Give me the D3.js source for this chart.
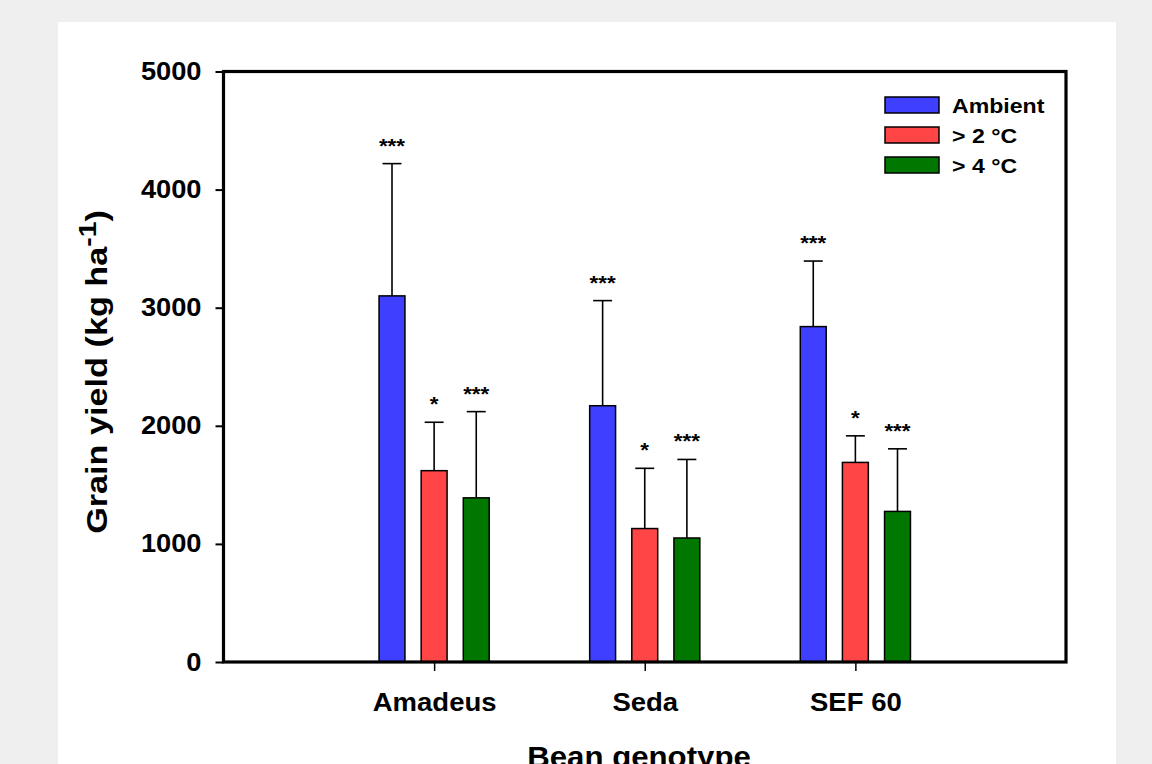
<!DOCTYPE html>
<html><head><meta charset="utf-8">
<script src="https://cdn.jsdelivr.net/npm/d3@7"></script>
<style>
html,body{margin:0;padding:0;background:#efefef;}
svg{display:block;font-family:"Liberation Sans",Arial,sans-serif;}
</style></head>
<body>
<svg id="chart" width="1152" height="764"></svg>
<script>
const categories = ["Amadeus", "Seda", "SEF 60"];
const seriesNames = ["Ambient", "> 2 °C", "> 4 °C"];
const seriesColors = ["#3f3fff", "#ff4545", "#007800"];
const ambientMean = [3100, 2170, 2840];
const ambientErr  = [1120, 890, 555];
const plus2Mean   = [1620, 1130, 1690];
const plus2Err    = [410, 510, 225];
const plus4Mean   = [1390, 1050, 1275];
const plus4Err    = [730, 665, 530];
const ambientSig = ["***", "***", "***"];
const plus2Sig   = ["*", "*", "*"];
const plus4Sig   = ["***", "***", "***"];
const yTicks = [0, 1000, 2000, 3000, 4000, 5000];

const means = [ambientMean, plus2Mean, plus4Mean];
const errs = [ambientErr, plus2Err, plus4Err];
const sigs = [ambientSig, plus2Sig, plus4Sig];

function widen(sel, f) {
  sel.each(function() {
    const n = this.getComputedTextLength();
    d3.select(this).attr("textLength", n * f).attr("lengthAdjust", "spacingAndGlyphs");
  });
}

const svg = d3.select("#chart");
svg.append("rect").attr("x", 58).attr("y", 22).attr("width", 1058).attr("height", 760).attr("fill", "#fff");

const L = 223.5, R = 1066, T = 71.5, B = 662;
const x = d3.scaleLinear().domain([0, 4]).range([L, R]);
const y = d3.scaleLinear().domain([0, 5000]).range([B, T]);
const off = 0.2, bw = 0.123, cap = 0.045;

const data = [];
categories.forEach((c, i) => {
  seriesNames.forEach((s, j) => {
    data.push({cat: c, ci: i + 1, sj: j, mean: means[j][i], err: errs[j][i], sig: sigs[j][i]});
  });
});

const g = svg.append("g");
// error bars
g.selectAll("line.eb").data(data).join("line")
  .attr("x1", d => x(d.ci + (d.sj - 1) * off)).attr("x2", d => x(d.ci + (d.sj - 1) * off))
  .attr("y1", d => y(d.mean)).attr("y2", d => y(d.mean + d.err))
  .attr("stroke", "#000").attr("stroke-width", 1.6);
g.selectAll("line.cap").data(data).join("line")
  .attr("x1", d => x(d.ci + (d.sj - 1) * off - cap)).attr("x2", d => x(d.ci + (d.sj - 1) * off + cap))
  .attr("y1", d => y(d.mean + d.err)).attr("y2", d => y(d.mean + d.err))
  .attr("stroke", "#000").attr("stroke-width", 1.6);
// bars
g.selectAll("rect.bar").data(data).join("rect")
  .attr("x", d => x(d.ci + (d.sj - 1) * off - bw / 2))
  .attr("width", d => x(bw) - x(0))
  .attr("y", d => y(d.mean))
  .attr("height", d => y(0) - y(d.mean))
  .attr("fill", d => seriesColors[d.sj]).attr("stroke", "#000").attr("stroke-width", 1.5);
// significance
const st = g.selectAll("text.sig").data(data).join("text")
  .attr("x", d => x(d.ci + (d.sj - 1) * off))
  .attr("y", d => y(d.mean + d.err) - 11)
  .attr("text-anchor", "middle").attr("font-size", 20).attr("font-weight", "bold")
  .attr("fill", "#000")
  .text(d => d.sig);
widen(st, 1.12);

// y axis
const yAxis = d3.axisLeft(y).tickValues(yTicks).tickSize(8).tickPadding(14).tickFormat(d3.format("d"));
const ya = svg.append("g").attr("transform", `translate(${L},0)`).call(yAxis);
ya.select(".domain").remove();
ya.selectAll("line").attr("stroke", "#000").attr("stroke-width", 2);
ya.selectAll("text").attr("font-size", 25).attr("font-weight", "bold").attr("fill", "#000")
  .attr("font-family", "Liberation Sans, Arial, sans-serif");
widen(ya.selectAll("text"), 1.09);

// x axis
const xAxis = d3.axisBottom(x).tickValues([1, 2, 3]).tickFormat(d => categories[d - 1]).tickSize(9).tickPadding(22);
const xa = svg.append("g").attr("transform", `translate(0,${B})`).call(xAxis);
xa.select(".domain").remove();
xa.selectAll("line").attr("stroke", "#000").attr("stroke-width", 1.5);
xa.selectAll("text").attr("font-size", 25).attr("font-weight", "bold").attr("fill", "#000")
  .attr("font-family", "Liberation Sans, Arial, sans-serif");
widen(xa.selectAll("text"), 1.1);

// frame
svg.append("rect").attr("x", L).attr("y", T).attr("width", R - L).attr("height", B - T)
  .attr("fill", "none").attr("stroke", "#000").attr("stroke-width", 3.2);

// axis titles
const xt = svg.append("text").attr("x", 639).attr("y", 767).attr("text-anchor", "middle")
  .attr("font-size", 30).attr("font-weight", "bold").text("Bean genotype");
widen(xt, 1.04);
const yt = svg.append("text").attr("transform", "translate(107,372) rotate(-90)")
  .attr("text-anchor", "middle").attr("font-size", 29).attr("font-weight", "bold");
yt.append("tspan").text("Grain yield (kg ha");
yt.append("tspan").attr("dy", -11).attr("font-size", 24).text("-1");
yt.append("tspan").attr("dy", 11).text(")");
widen(yt, 1.18);

// legend
const lg = svg.append("g");
seriesNames.forEach((s, j) => {
  lg.append("rect").attr("x", 885).attr("y", 97 + j * 30).attr("width", 54).attr("height", 16)
    .attr("fill", seriesColors[j]).attr("stroke", "#000").attr("stroke-width", 1.5);
  const t = lg.append("text").attr("x", 952).attr("y", 113 + j * 30).attr("font-size", 21).attr("font-weight", "bold")
    .text(s);
  widen(t, 1.1);
});
</script>
</body></html>
